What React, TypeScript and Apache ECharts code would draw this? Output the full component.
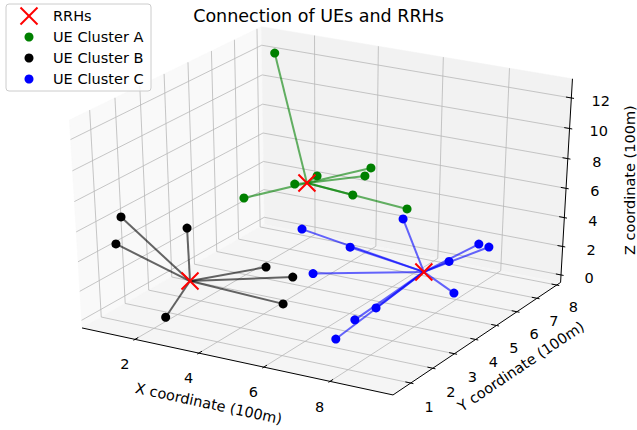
import React, { useEffect, useRef } from "react";
import * as echarts from "echarts";

type P3 = [number, number, number];

// ---------- texts ----------
const TITLE = "Connection of UEs and RRHs";
const X_LABEL = "X coordinate (100m)";
const Y_LABEL = "Y coordinate (100m)";
const Z_LABEL = "Z coordinate (100m)";
const LEGEND_NAMES = ["RRHs", "UE Cluster A", "UE Cluster B", "UE Cluster C"];

// ---------- axes (100 m units) ----------
const X_LIM: [number, number] = [0.31, 9.87];
const Y_LIM: [number, number] = [0.21, 8.2];
const Z_LIM: [number, number] = [-0.53, 13.24];
const X_TICKS = [2, 4, 6, 8];
const Y_TICKS = [1, 2, 3, 4, 5, 6, 7, 8];
const Z_TICKS = [0, 2, 4, 6, 8, 10, 12];

// ---------- data ----------
const RRHS: P3[] = [
  [2.95, 6.47, 5],
  [2.44, 1.99, 2],
  [7.0, 5.96, 1],
];
const UE_A: P3[] = [
  [1.14, 7.62, 12.2],
  [2.7, 6.27, 5],
  [3.51, 6.13, 6],
  [5.06, 6.33, 7],
  [4.64, 6.68, 6],
  [4.54, 6.27, 5],
  [6.38, 6.05, 5],
  [1.46, 5.71, 4],
];
const UE_B: P3[] = [
  [0.69, 1.53, 6],
  [1.07, 0.8, 5],
  [2.67, 1.64, 6],
  [3.65, 3.62, 2],
  [4.1, 4.17, 1],
  [4.64, 2.97, 0.5],
  [2.2, 1.24, 0.1],
];
const UE_C: P3[] = [
  [4.14, 4.54, 4],
  [5.41, 4.88, 3],
  [6.68, 5.41, 5],
  [4.44, 4.6, 1],
  [7.73, 6.02, 2],
  [8.84, 5.66, 4],
  [9.34, 5.34, 4.3],
  [8.03, 5.83, 0.1],
  [7.75, 2.6, 2],
  [7.7, 1.73, 2],
  [7.43, 1.29, 1],
];

// ---------- view ----------
const W = 637;
const H = 430;
const ELEV = 30;
const AZIM = -60;
const DIST = 10;
const KX = 3590;
const KY = 2375;
const CX = 325;
const CY = 204.5;
const FONT = "DejaVu Sans";

const er = (ELEV * Math.PI) / 180;
const ar = (AZIM * Math.PI) / 180;
const VW = [Math.cos(er) * Math.cos(ar), Math.cos(er) * Math.sin(ar), Math.sin(er)];
const VU = [-Math.sin(ar), Math.cos(ar), 0];
const VV = [
  VW[1] * VU[2] - VW[2] * VU[1],
  VW[2] * VU[0] - VW[0] * VU[2],
  VW[0] * VU[1] - VW[1] * VU[0],
];

function projN(n: number[]): [number, number] {
  const du = n[0] * VU[0] + n[1] * VU[1] + n[2] * VU[2];
  const dv = n[0] * VV[0] + n[1] * VV[1] + n[2] * VV[2];
  const dw = n[0] * VW[0] + n[1] * VW[1] + n[2] * VW[2];
  const d = DIST - dw;
  return [du / d, dv / d];
}
const norm = (v: number, lim: [number, number]) => (v - lim[0]) / (lim[1] - lim[0]) - 0.5;
const proj = (p: P3) => projN([norm(p[0], X_LIM), norm(p[1], Y_LIM), norm(p[2], Z_LIM)]);

function renderFrame(_params: any, api: any) {
  const C = (n: number[]) => api.coord(projN(n));
  const ch: any[] = [];
  const lo = -0.5;
  const hi = 0.5;
  const poly = (pts: number[][], fill: string) =>
    ch.push({ type: "polygon", shape: { points: pts.map(C) }, style: { fill, stroke: fill, lineWidth: 0.5 } });
  poly([[lo, lo, lo], [lo, hi, lo], [lo, hi, hi], [lo, lo, hi]], "#f9f9f9");
  poly([[lo, hi, lo], [hi, hi, lo], [hi, hi, hi], [lo, hi, hi]], "#f2f2f2");
  poly([[lo, lo, lo], [hi, lo, lo], [hi, hi, lo], [lo, hi, lo]], "#f5f5f5");
  const seg = (a: number[], b: number[], stroke: string, lw: number) => {
    const p = C(a);
    const q = C(b);
    ch.push({ type: "line", shape: { x1: p[0], y1: p[1], x2: q[0], y2: q[1] }, style: { stroke, lineWidth: lw } });
  };
  const txt = (n: number[], text: string, rot = 0) => {
    const p = C(n);
    ch.push({
      type: "text",
      x: p[0],
      y: p[1],
      rotation: rot,
      style: { text, fill: "#000", fontSize: 14.5, fontFamily: FONT, align: "center", verticalAlign: "middle" },
    });
  };
  const GRID = "#b8b8b8";
  X_TICKS.forEach((t) => {
    const n = norm(t, X_LIM);
    seg([n, lo, lo], [n, hi, lo], GRID, 0.8);
    seg([n, hi, lo], [n, hi, hi], GRID, 0.8);
  });
  Y_TICKS.forEach((t) => {
    const n = norm(t, Y_LIM);
    seg([lo, n, lo], [hi, n, lo], GRID, 0.8);
    seg([lo, n, lo], [lo, n, hi], GRID, 0.8);
  });
  Z_TICKS.forEach((t) => {
    const n = norm(t, Z_LIM);
    seg([lo, lo, n], [lo, hi, n], GRID, 0.8);
    seg([lo, hi, n], [hi, hi, n], GRID, 0.8);
  });
  seg([lo, lo, lo], [hi, lo, lo], "#000", 1);
  seg([hi, lo, lo], [hi, hi, lo], "#000", 1);
  seg([hi, hi, lo], [hi, hi, hi], "#000", 1);
  const TIN = 0.2 / 12;
  const TOUT = 0.1 / 12;
  X_TICKS.forEach((t) => {
    const n = norm(t, X_LIM);
    seg([n, lo + TIN, lo], [n, lo - TOUT, lo], "#000", 1);
    txt([n, lo - 0.057, lo - 0.093], String(t));
  });
  Y_TICKS.forEach((t) => {
    const n = norm(t, Y_LIM);
    seg([hi - TIN, n, lo], [hi + TOUT, n, lo], "#000", 1);
    txt([hi + 0.058, n, lo - 0.097], String(t));
  });
  Z_TICKS.forEach((t) => {
    const n = norm(t, Z_LIM);
    seg([hi - TIN, hi, n], [hi + TOUT, hi, n], "#000", 1);
    txt([hi + 0.082, hi + 0.018, n], String(t));
  });
  const ang = (a: number[], b: number[]) => {
    const p = C(a);
    const q = C(b);
    return -Math.atan2(q[1] - p[1], q[0] - p[0]);
  };
  txt([0, lo - 0.137, lo - 0.134], X_LABEL, ang([lo, lo, lo], [hi, lo, lo]));
  txt([hi + 0.132, 0, lo - 0.107], Y_LABEL, ang([hi, lo, lo], [hi, hi, lo]));
  txt([hi + 0.1455, hi + 0.1138, 0], Z_LABEL, Math.PI / 2);
  return { type: "group", children: ch };
}

function links(ues: P3[], rrh: P3, color: string) {
  return {
    type: "custom",
    coordinateSystem: "cartesian2d",
    data: ues.map((_, i) => [i, 0]),
    silent: true,
    clip: false,
    z: 3,
    renderItem: (params: any, api: any) => {
      const a = api.coord(proj(rrh));
      const b = api.coord(proj(ues[params.dataIndex]));
      return {
        type: "line",
        shape: { x1: a[0], y1: a[1], x2: b[0], y2: b[1] },
        style: { stroke: color, lineWidth: 2 },
      };
    },
  };
}

function dots(name: string, ues: P3[], color: string) {
  return {
    type: "scatter",
    name,
    data: ues.map(proj),
    symbol: "circle",
    symbolSize: 9,
    itemStyle: { color, opacity: 1 },
    silent: true,
    emphasis: { disabled: true },
    z: 4,
  };
}

const LEGEND_COLORS = ["#ff0000", "#008000", "#000000", "#0000ff"];
const LEGEND_ROWS = [16, 37, 58, 79];

function legendGraphic() {
  const g: any[] = [
    {
      type: "rect",
      z: 100,
      shape: { x: 6, y: 4, width: 145, height: 87, r: 3 },
      style: { fill: "rgba(255,255,255,0.8)", stroke: "#cccccc", lineWidth: 1 },
    },
  ];
  LEGEND_NAMES.forEach((name, i) => {
    const y = LEGEND_ROWS[i];
    if (i === 0) {
      g.push({ type: "line", z: 101, shape: { x1: 20.5, y1: y - 8.5, x2: 37.5, y2: y + 8.5 }, style: { stroke: LEGEND_COLORS[i], lineWidth: 2 } });
      g.push({ type: "line", z: 101, shape: { x1: 37.5, y1: y - 8.5, x2: 20.5, y2: y + 8.5 }, style: { stroke: LEGEND_COLORS[i], lineWidth: 2 } });
    } else {
      g.push({ type: "circle", z: 101, shape: { cx: 29, cy: y, r: 4.5 }, style: { fill: LEGEND_COLORS[i] } });
    }
    g.push({
      type: "text",
      z: 101,
      x: 53,
      y,
      style: { text: name, fill: "#000", fontSize: 14.5, fontFamily: FONT, align: "left", verticalAlign: "middle" },
    });
  });
  return g;
}

export default function App() {
  const ref = useRef<HTMLDivElement>(null);
  useEffect(() => {
    document.body.style.margin = "0";
    if (!ref.current) return;
    const chart = echarts.init(ref.current, null, { renderer: "svg" });
    chart.setOption({
      animation: false,
      backgroundColor: "#ffffff",
      title: {
        text: TITLE,
        left: "center",
        top: 7,
        padding: 0,
        textStyle: { fontFamily: FONT, fontSize: 17.5, fontWeight: "normal", color: "#000" },
      },
      grid: { left: 0, right: 0, top: 0, bottom: 0 },
      xAxis: { type: "value", min: -CX / KX, max: (W - CX) / KX, show: false },
      yAxis: { type: "value", min: (CY - H) / KY, max: CY / KY, show: false },
      series: [
        {
          type: "custom",
          coordinateSystem: "cartesian2d",
          data: [[0, 0]],
          renderItem: renderFrame,
          silent: true,
          clip: false,
          z: 1,
        },
        links(UE_A, RRHS[0], "rgba(0,128,0,0.6)"),
        links(UE_B, RRHS[1], "rgba(0,0,0,0.6)"),
        links(UE_C, RRHS[2], "rgba(0,0,255,0.6)"),
        dots(LEGEND_NAMES[1], UE_A, "#008000"),
        dots(LEGEND_NAMES[2], UE_B, "#000000"),
        dots(LEGEND_NAMES[3], UE_C, "#0000ff"),
        {
          type: "scatter",
          name: LEGEND_NAMES[0],
          data: RRHS.map(proj),
          symbol: "path://M0,0L10,10M10,0L0,10",
          symbolSize: 17,
          itemStyle: { color: "rgba(0,0,0,0)", borderColor: "#ff0000", borderWidth: 2, opacity: 1 },
          silent: true,
          emphasis: { disabled: true },
          z: 5,
        },
      ],
      graphic: legendGraphic(),
    });
    return () => chart.dispose();
  }, []);
  return <div ref={ref} style={{ width: W, height: H }} />;
}
